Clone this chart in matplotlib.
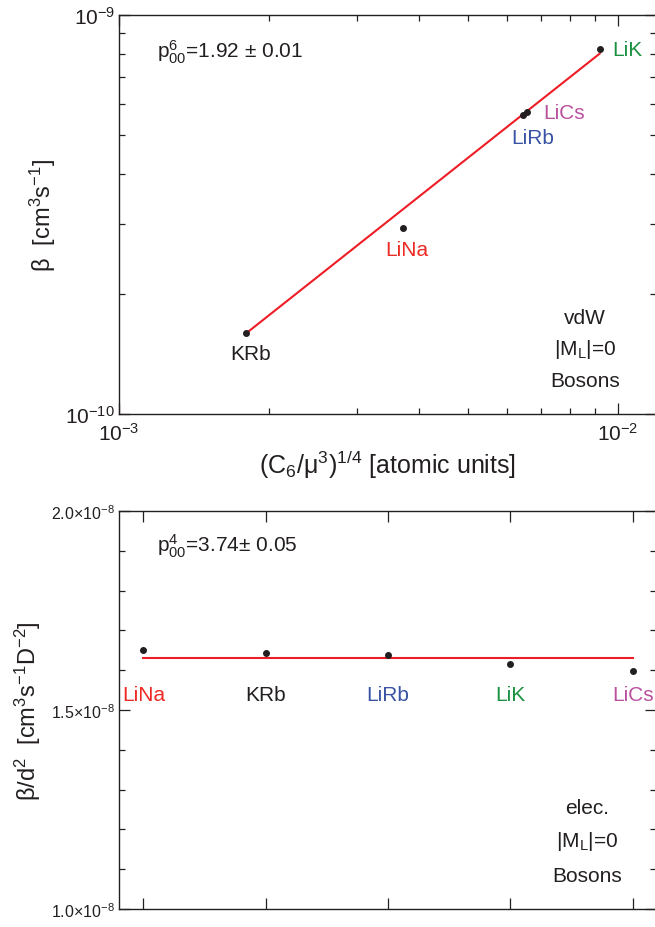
import numpy as np
import matplotlib
matplotlib.use("Agg")
import matplotlib.pyplot as plt
import matplotlib.transforms as mtransforms
from matplotlib.ticker import LogLocator, MultipleLocator, FuncFormatter, NullFormatter

plt.rcParams['font.family'] = ['Liberation Sans', 'DejaVu Sans']
plt.rcParams['mathtext.fontset'] = 'custom'
plt.rcParams['mathtext.rm'] = 'Liberation Sans'
plt.rcParams['mathtext.it'] = 'Liberation Sans:italic'
plt.rcParams['mathtext.bf'] = 'Liberation Sans:bold'
plt.rcParams['mathtext.default'] = 'regular'
plt.rcParams['axes.unicode_minus'] = False

# --- top panel: van der Waals scaling ---
mol_top = ['KRb', 'LiNa', 'LiRb', 'LiCs', 'LiK']
x_top = [1.795e-3, 3.713e-3, 6.44e-3, 6.57e-3, 9.19e-3]
beta_top = [1.592e-10, 2.92e-10, 5.60e-10, 5.71e-10, 8.20e-10]
fit_top_x = [1.795e-3, 9.19e-3]
fit_top_y = [1.59e-10, 8.0e-10]

# --- bottom panel: electric dipole scaling ---
mol_bot = ['LiNa', 'KRb', 'LiRb', 'LiK', 'LiCs']
beta_d2 = [1.651e-8, 1.644e-8, 1.638e-8, 1.616e-8, 1.599e-8]
fit_bot = 1.630e-8

colors = {'KRb': '#231f20', 'LiNa': '#ee2a24', 'LiRb': '#3953a4',
          'LiCs': '#b9509e', 'LiK': '#1a9141'}
red = '#ee1c25'
ink = '#231f20'

fig = plt.figure(figsize=(6.55, 9.28), dpi=100)
ax1 = fig.add_axes([119/655, 1 - 415/928, 537/655, 399/928])
ax2 = fig.add_axes([119/655, 1 - 910/928, 537/655, 398/928])

# top panel
ax1.set_xscale('log')
ax1.set_yscale('log')
ax1.plot(fit_top_x, fit_top_y, color=red, lw=1.5, zorder=2)
ax1.plot(x_top, beta_top, 'o', color=ink, ms=4, zorder=3)
ax1.set_xlim(1e-3, 0.01192)
ax1.set_ylim(1e-10, 1e-9)

offsets = {'KRb': (3.6, -14.5, 'center'), 'LiNa': (2.7, -15, 'center'),
           'LiRb': (7.4, -15.6, 'center'), 'LiCs': (11.5, 0, 'left'),
           'LiK': (9.4, 0, 'left')}
for name, xv, yv in zip(mol_top, x_top, beta_top):
    dx, dy, ha = offsets[name]
    ax1.annotate(name, (xv, yv), xytext=(dx, dy), textcoords='offset points',
                 ha=ha, va='center', fontsize=15, color=colors[name])

ax1.text(0.0708, 0.895, r'p$_{00}^{6}$=1.92 $\pm$ 0.01', transform=ax1.transAxes,
         fontsize=15, color=ink, va='baseline', ha='left')
for txt, yy in zip(['vdW', r'|M$_\mathrm{L}$|=0', 'Bosons'], [0.243, 0.165, 0.083]):
    ax1.text(0.868, yy, txt, transform=ax1.transAxes, fontsize=15, color=ink,
             ha='center', va='center')

ax1.xaxis.set_major_locator(LogLocator(base=10, numticks=10))
ax1.xaxis.set_minor_locator(LogLocator(base=10, subs=np.arange(2, 10), numticks=10))
ax1.yaxis.set_major_locator(LogLocator(base=10, numticks=10))
ax1.yaxis.set_minor_locator(LogLocator(base=10, subs=np.arange(2, 10), numticks=10))
ax1.xaxis.set_minor_formatter(NullFormatter())
ax1.yaxis.set_minor_formatter(NullFormatter())
ax1.tick_params(which='both', direction='in', top=True, right=True, colors=ink,
                labelsize=15, width=0.9)
ax1.tick_params(which='major', length=8)
ax1.tick_params(which='minor', length=4.5)
ax1.tick_params(axis='y', pad=3)
ax1.tick_params(axis='x', pad=6)
ax1.set_xlabel(r'(C$_6$/$\mu^3$)$^{1/4}$ [atomic units]', fontsize=18, color=ink, labelpad=3)
ax1.set_ylabel(r'$\beta$  [cm$^3$s$^{-1}$]', fontsize=17, color=ink, labelpad=5)

# bottom panel
pos = np.arange(1, len(mol_bot) + 1)
ax2.plot([pos[0], pos[-1]], [fit_bot, fit_bot], color=red, lw=1.5, zorder=2)
ax2.plot(pos, beta_d2, 'o', color=ink, ms=4, zorder=3)
ax2.set_xlim(0.8, 5.19)
ax2.set_ylim(1.0e-8, 2.0e-8)
ax2.set_xticks(pos)
ax2.set_xticklabels([])
ax2.yaxis.set_major_locator(MultipleLocator(0.5e-8))
ax2.yaxis.set_minor_locator(MultipleLocator(0.1e-8))


def sci_fmt(v, p):
    return r'%.1f$\times$10$^{-8}$' % (v / 1e-8)


ax2.yaxis.set_major_formatter(FuncFormatter(sci_fmt))
ax2.tick_params(which='both', direction='in', top=True, right=True, colors=ink,
                labelsize=11.5, width=0.9)
ax2.tick_params(which='major', length=8)
ax2.tick_params(which='minor', length=4.5)
ax2.tick_params(axis='y', pad=3)

blend = mtransforms.blended_transform_factory(ax2.transData, ax2.transAxes)
for name, xp in zip(mol_bot, pos):
    ax2.text(xp, 0.538, name, transform=blend, fontsize=15, color=colors[name],
             ha='center', va='center')

ax2.text(0.0708, 0.8995, r'p$_{00}^{4}$=3.74$\pm$ 0.05', transform=ax2.transAxes,
         fontsize=15, color=ink, va='baseline', ha='left')
for txt, yy in zip(['elec.', r'|M$_\mathrm{L}$|=0', 'Bosons'], [0.256, 0.171, 0.085]):
    ax2.text(0.871, yy, txt, transform=ax2.transAxes, fontsize=15, color=ink,
             ha='center', va='center')
ax2.set_ylabel(r'$\beta$/d$^2$  [cm$^3$s$^{-1}$D$^{-2}$]', fontsize=17, color=ink, labelpad=6)

for ax in (ax1, ax2):
    for sp in ax.spines.values():
        sp.set_linewidth(1.0)
        sp.set_color(ink)

fig.savefig('out.png', dpi=100)
